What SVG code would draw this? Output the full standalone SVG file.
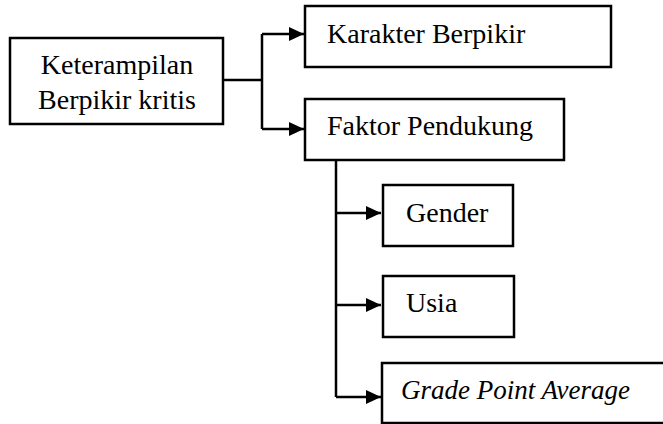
<svg xmlns="http://www.w3.org/2000/svg" width="663" height="424" viewBox="0 0 663 424">
<style>
.box{fill:#fff;stroke:#000;stroke-width:2.5}
.t{font-family:"Liberation Serif","DejaVu Serif",serif;font-size:28px;fill:#000}
.i{font-style:italic;font-size:27px}
.c{fill:none;stroke:#000;stroke-width:2.5}
</style>
<defs>
<marker id="ah" markerWidth="15" markerHeight="14" refX="15" refY="7" orient="auto" markerUnits="userSpaceOnUse">
<path d="M0,0 L15,7 L0,14 Z" fill="#000"/>
</marker>
</defs>
<g id="connectors">
<path class="c" d="M223,80 H262"/>
<path class="c" d="M262,34 V129"/>
<path class="c" d="M262,34 H304" marker-end="url(#ah)"/>
<path class="c" d="M262,129 H304" marker-end="url(#ah)"/>
<path class="c" d="M336,160 V397"/>
<path class="c" d="M336,213 H381" marker-end="url(#ah)"/>
<path class="c" d="M336,305 H381" marker-end="url(#ah)"/>
<path class="c" d="M336,397 H381" marker-end="url(#ah)"/>
</g>
<g id="n1">
<rect class="box" x="10" y="38" width="213" height="86"/>
<text class="t" x="117" y="74" text-anchor="middle">Keterampilan</text>
<text class="t" x="117" y="109" text-anchor="middle">Berpikir kritis</text>
</g>
<g id="n2">
<rect class="box" x="305" y="6" width="306" height="61"/>
<text class="t" x="327" y="43">Karakter Berpikir</text>
</g>
<g id="n3">
<rect class="box" x="305" y="99" width="259" height="61"/>
<text class="t" x="327" y="135">Faktor Pendukung</text>
</g>
<g id="n4">
<rect class="box" x="383" y="185" width="130" height="61"/>
<text class="t" x="406" y="222">Gender</text>
</g>
<g id="n5">
<rect class="box" x="383" y="276" width="131" height="61"/>
<text class="t" x="406" y="312">Usia</text>
</g>
<g id="n6">
<rect class="box" x="382" y="363" width="290" height="60"/>
<text class="t i" x="401" y="399">Grade Point Average</text>
</g>
</svg>
